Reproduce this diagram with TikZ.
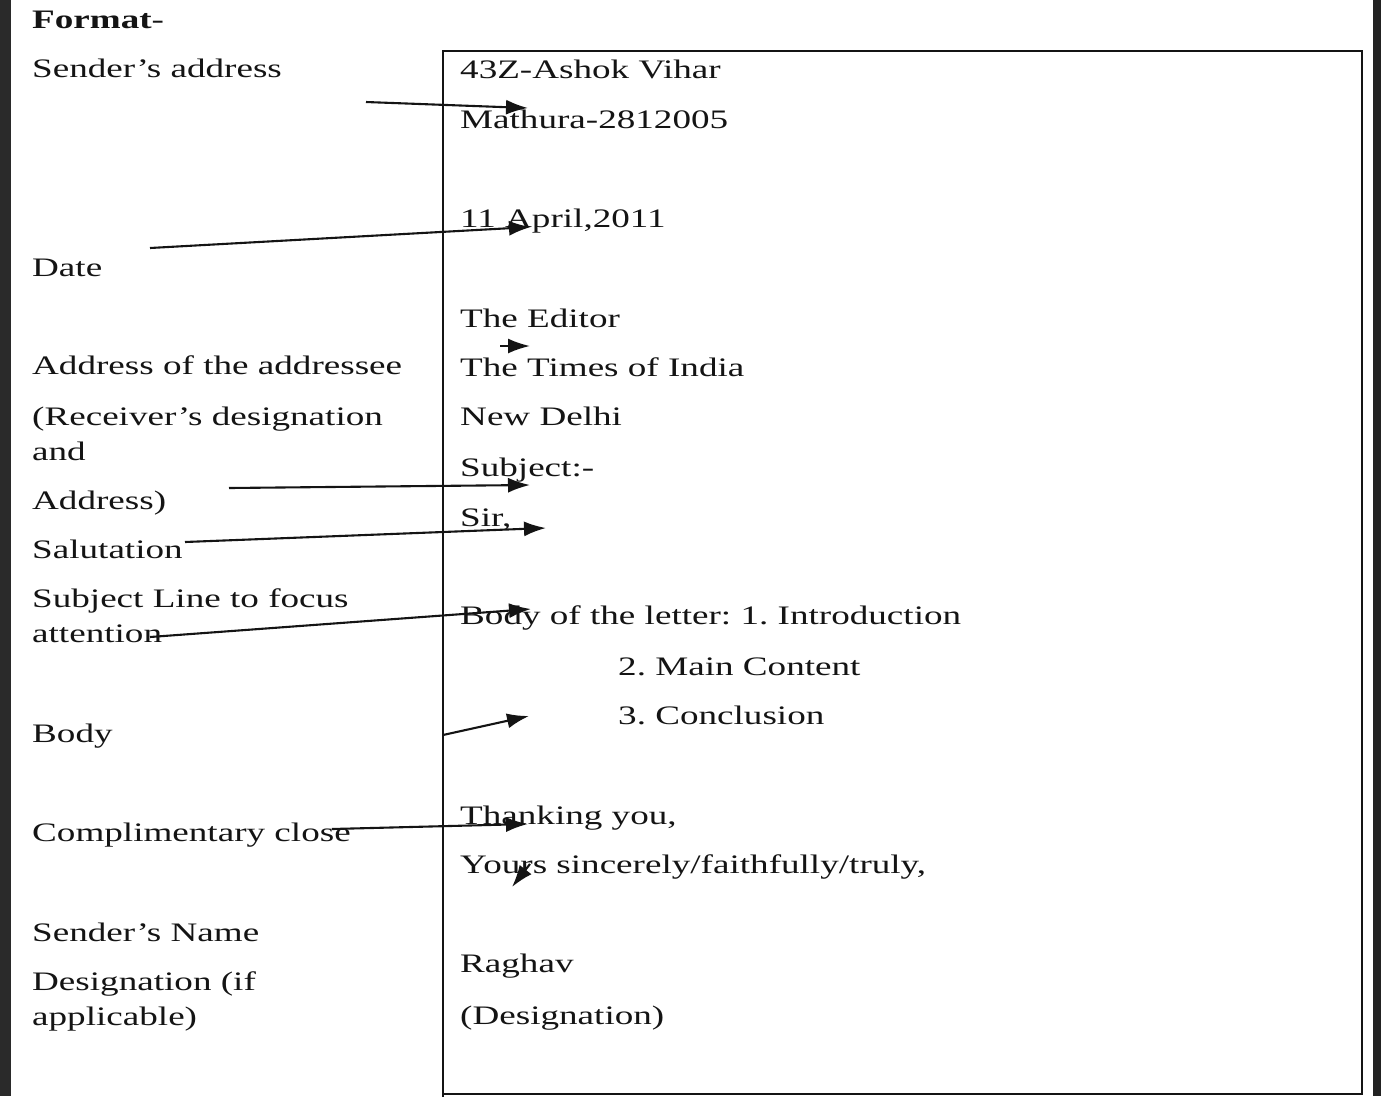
\documentclass[tikz,border=0pt]{standalone}
\usepackage{fontspec}
\setmainfont[FakeStretch=1.39]{Liberation Serif}
\usetikzlibrary{arrows.meta}
\definecolor{ink}{HTML}{141414}
\definecolor{strip}{HTML}{2A2A2A}
\begin{document}
\frenchspacing
\begin{tikzpicture}[x=1pt,y=-1pt,
  lbl/.style={anchor=base west,inner sep=0pt,font=\fontsize{26.7}{32}\selectfont\frenchspacing,text=ink},
  arr/.style={line width=2.1pt,draw=ink,-{Latex[length=22pt,width=15pt]}},
  frame/.style={line width=2pt,draw=ink}]
\useasboundingbox (0,0) rectangle (1381,1096);
\fill[white] (0,0) rectangle (1381,1096);
\fill[strip] (0,0) rectangle (11,1096);
\fill[strip!80!black] (1373,0) rectangle (1381,1096);
% letter box
\draw[frame] (443,1097) -- (443,51) -- (1362,51) -- (1362,1094) -- (443,1094);
% left labels
\node[lbl] (fmt) at (32,28) {\textbf{Format}-};
\node[lbl] (sa) at (32,77) {Sender's address};
\node[lbl] (dt) at (32,276) {Date};
\node[lbl] (aa) at (32,374) {Address of the addressee};
\node[lbl] (rd) at (32,425) {(Receiver's designation};
\node[lbl] (an) at (32,460) {and};
\node[lbl] (ad) at (32,509) {Address)};
\node[lbl] (sl) at (32,558) {Salutation};
\node[lbl] (sj) at (32,607) {Subject Line to focus};
\node[lbl] (at) at (32,642) {attention};
\node[lbl] (bd) at (32,742) {Body};
\node[lbl] (cc) at (32,841) {Complimentary close};
\node[lbl] (sn) at (32,941) {Sender's Name};
\node[lbl] (dg) at (32,990) {Designation (if};
\node[lbl] (ap) at (32,1025) {applicable)};
% letter content
\node[lbl] (r1) at (460,78) {43Z-Ashok Vihar};
\node[lbl] (r2) at (460,128) {Mathura-2812005};
\node[lbl] (r3) at (460,227) {11 April,2011};
\node[lbl] (r4) at (460,327) {The Editor};
\node[lbl] (r5) at (460,376) {The Times of India};
\node[lbl] (r6) at (460,425) {New Delhi};
\node[lbl] (r7) at (460,476) {Subject:-};
\node[lbl] (r8) at (460,526) {Sir,};
\node[lbl] (r9) at (460,624) {Body of the letter: 1. Introduction};
\node[lbl] (r10) at (618,675) {2. Main Content};
\node[lbl] (r11) at (618,724) {3. Conclusion};
\node[lbl] (r12) at (460,824) {Thanking you,};
\node[lbl] (r13) at (460,873) {Yours sincerely/faithfully/truly,};
\node[lbl] (r14) at (460,972) {Raghav};
\node[lbl] (r15) at (460,1024) {(Designation)};
% arrow end points
\coordinate (a1s) at (366,102); \coordinate (a1e) at (528,108);
\coordinate (a2s) at (150,248); \coordinate (a2e) at (531,227);
\coordinate (a3s) at (500,346); \coordinate (a3e) at (530,346);
\coordinate (a4s) at (229,488); \coordinate (a4e) at (530,485);
\coordinate (a5s) at (185,542); \coordinate (a5e) at (546,528);
\coordinate (a6s) at (150,637); \coordinate (a6e) at (531,609);
\coordinate (a7s) at (443,735); \coordinate (a7e) at (529,716);
\coordinate (a8s) at (332,829); \coordinate (a8e) at (528,824);
\coordinate (a9s) at (530,864); \coordinate (a9e) at (512,887);
\draw[arr] (a1s) -- (a1e);
\draw[arr] (a2s) -- (a2e);
\draw[arr] (a3s) -- (a3e);
\draw[arr] (a4s) -- (a4e);
\draw[arr] (a5s) -- (a5e);
\draw[arr] (a6s) -- (a6e);
\draw[arr] (a7s) -- (a7e);
\draw[arr] (a8s) -- (a8e);
\draw[arr] (a9s) -- (a9e);
\end{tikzpicture}
\end{document}
